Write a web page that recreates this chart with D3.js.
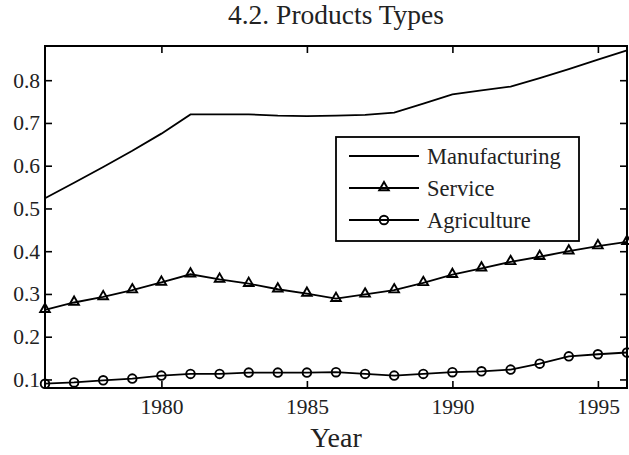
<!DOCTYPE html>
<html>
<head>
<meta charset="utf-8">
<script src="https://cdn.jsdelivr.net/npm/d3@7"></script>
<style>
  body { margin: 0; background: #fff; }
  svg text { font-family: "Liberation Serif", "DejaVu Serif", serif; fill: #222; }
</style>
</head>
<body>
<div id="chart"></div>
<script>
// years on the x axis
var years = d3.range(1976, 1997);

// series values
var manufacturing = [0.524, 0.560, 0.597, 0.635, 0.675, 0.720, 0.720, 0.720, 0.717, 0.716,
                     0.717, 0.719, 0.724, 0.745, 0.767, 0.776, 0.785, 0.805, 0.826, 0.848, 0.870];
var service = [0.263, 0.280, 0.293, 0.309, 0.327, 0.346, 0.334, 0.324, 0.311, 0.301,
               0.289, 0.299, 0.309, 0.326, 0.345, 0.360, 0.375, 0.387, 0.400, 0.412, 0.422];
var agriculture = [0.090, 0.093, 0.098, 0.102, 0.109, 0.113, 0.113, 0.116, 0.116, 0.116,
                   0.117, 0.113, 0.109, 0.113, 0.117, 0.119, 0.123, 0.137, 0.154, 0.159, 0.163];

var xTicks = [1980, 1985, 1990, 1995];
var yTicks = [0.1, 0.2, 0.3, 0.4, 0.5, 0.6, 0.7, 0.8];

var seriesNames = ["Manufacturing", "Service", "Agriculture"];
var markers = ["none", "triangle", "circle"];

var width = 629, height = 455;
var margin = {left: 45, right: 2, top: 46, bottom: 67};
var serif = '"Liberation Serif", "DejaVu Serif", serif';

var svg = d3.select("#chart").append("svg")
  .attr("width", width)
  .attr("height", height);

var x = d3.scaleLinear().domain([1976, 1996]).range([margin.left, width - margin.right]);
var y = d3.scaleLinear().domain([0.08, 0.88]).range([height - margin.bottom, margin.top]);

// axes, ticks pointing inwards like matlab
var tickLen = 7;
var bottomAxis = d3.axisBottom(x).tickValues(xTicks).tickSize(-tickLen).tickPadding(11).tickFormat(d3.format("d"));
var topAxis = d3.axisTop(x).tickValues(xTicks).tickSize(-tickLen).tickFormat("");
var leftAxis = d3.axisLeft(y).tickValues(yTicks).tickSize(-tickLen).tickPadding(5).tickFormat(d3.format(".1f"));
var rightAxis = d3.axisRight(y).tickValues(yTicks).tickSize(-tickLen).tickFormat("");

function styleAxis(g) {
  g.select(".domain").remove();
  g.attr("font-family", null).attr("font-size", null);
  g.selectAll(".tick line").attr("stroke", "#000").attr("stroke-width", 1.6);
  g.selectAll(".tick text")
    .style("font-family", serif)
    .style("font-size", "21.5px")
    .attr("fill", "#222");
}

svg.append("g").attr("transform", "translate(0," + y.range()[0] + ")").call(bottomAxis).call(styleAxis);
svg.append("g").attr("transform", "translate(0," + y.range()[1] + ")").call(topAxis).call(styleAxis);
svg.append("g").attr("transform", "translate(" + x.range()[0] + ",0)").call(leftAxis).call(styleAxis);
svg.append("g").attr("transform", "translate(" + x.range()[1] + ",0)").call(rightAxis).call(styleAxis);

var plot = svg.append("g");

var line = d3.line()
  .x(function(d, i) { return x(years[i]); })
  .y(function(d) { return y(d); });

var allSeries = [manufacturing, service, agriculture];

var triangle = d3.symbol().type(d3.symbolTriangle).size(40);

function drawMarker(g, kind, cx, cy) {
  if (kind === "triangle") {
    g.append("path").attr("d", triangle())
      .attr("transform", "translate(" + cx + "," + (cy - 0.5) + ")")
      .attr("fill", "none").attr("stroke", "#000").attr("stroke-width", 1.9);
  } else if (kind === "circle") {
    g.append("circle").attr("cx", cx).attr("cy", cy).attr("r", 4.3)
      .attr("fill", "none").attr("stroke", "#000").attr("stroke-width", 1.9);
  }
}

allSeries.forEach(function(vals, k) {
  plot.append("path")
    .datum(vals)
    .attr("d", line)
    .attr("fill", "none")
    .attr("stroke", "#000")
    .attr("stroke-width", 1.8);
  vals.forEach(function(v, i) {
    drawMarker(plot, markers[k], x(years[i]), y(v));
  });
});

// box around the axes
svg.append("rect")
  .attr("x", x.range()[0]).attr("y", y.range()[1])
  .attr("width", x.range()[1] - x.range()[0])
  .attr("height", y.range()[0] - y.range()[1])
  .attr("fill", "none").attr("stroke", "#000").attr("stroke-width", 2);

// legend
var legend = svg.append("g");
legend.append("rect")
  .attr("x", 336).attr("y", 137).attr("width", 243).attr("height", 104)
  .attr("fill", "#fff").attr("stroke", "#000").attr("stroke-width", 1.8);

seriesNames.forEach(function(name, k) {
  var ly = 156 + k * 32;
  legend.append("line")
    .attr("x1", 349).attr("x2", 419).attr("y1", ly).attr("y2", ly)
    .attr("stroke", "#000").attr("stroke-width", 1.8);
  drawMarker(legend, markers[k], 384, ly);
  legend.append("text")
    .attr("x", 427).attr("y", ly + 8)
    .attr("font-size", 22.5)
    .text(name);
});

// title and axis label
svg.append("text")
  .attr("x", (x.range()[0] + x.range()[1]) / 2).attr("y", 24)
  .attr("text-anchor", "middle").attr("font-size", 27.5)
  .text("4.2. Products Types");

svg.append("text")
  .attr("x", (x.range()[0] + x.range()[1]) / 2).attr("y", 447)
  .attr("text-anchor", "middle").attr("font-size", 28)
  .text("Year");
</script>
</body>
</html>
